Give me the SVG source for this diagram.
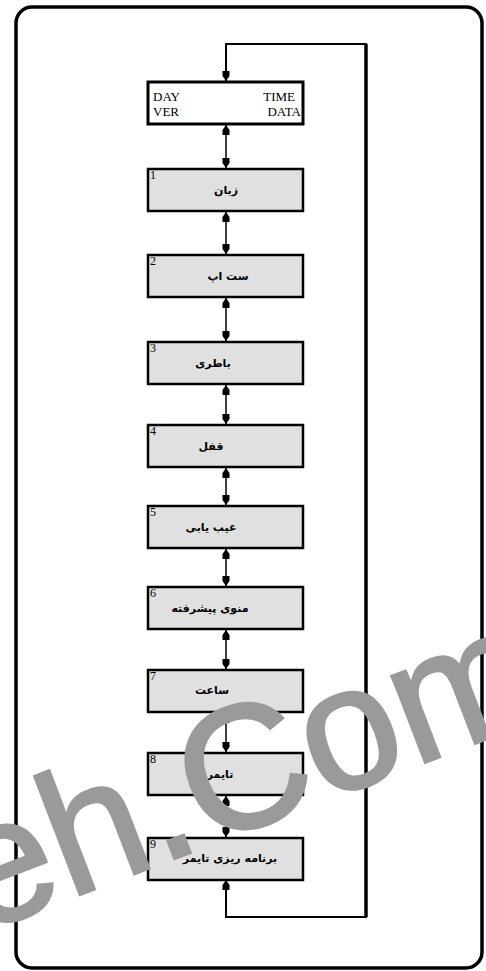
<svg xmlns="http://www.w3.org/2000/svg" width="486" height="971" viewBox="0 0 486 971">
<style>
.frame{fill:#fff;stroke:#000;stroke-width:3.5}
.box{fill:#e0e0e0;stroke:#000;stroke-width:2.5}
.hdr{fill:#fff;stroke:#000;stroke-width:3}
.lbl{font-family:"DejaVu Sans",sans-serif;font-weight:bold;font-size:11px;fill:#000;text-anchor:middle}
.num{font-family:"Liberation Serif",serif;font-size:12px;fill:#000}
.hd{font-family:"Liberation Serif",serif;font-size:13px;fill:#000}
.con{fill:none;stroke:#000;stroke-width:1.5}
.loop{fill:none;stroke:#000;stroke-width:2}
.wm{font-family:"Liberation Sans",Arial,sans-serif;font-size:175px;fill:#9a9a9a;stroke:#9a9a9a;stroke-width:3}
</style>
<defs>
<marker id="ah" markerUnits="userSpaceOnUse" markerWidth="14" markerHeight="10" viewBox="-12 -5 14 10" refX="0" refY="0" orient="auto-start-reverse">
<polygon points="-10,-3.5 -5,-3.5 0,0 -5,3.5 -10,3.5" fill="#000"/>
</marker>
</defs>
<rect class="frame" x="16" y="7" width="466" height="961" rx="16"/>
<g id="connectors">
<path class="loop" d="M226,81 V44 H366 V917 H226 V880" marker-start="url(#ah)" marker-end="url(#ah)"/>
<line x1="366" y1="44" x2="366" y2="917" stroke="#000" stroke-width="3.5"/>
<line class="con" x1="226" y1="125" x2="226" y2="168" marker-start="url(#ah)" marker-end="url(#ah)"/>
<line class="con" x1="226" y1="212" x2="226" y2="254" marker-start="url(#ah)" marker-end="url(#ah)"/>
<line class="con" x1="226" y1="298" x2="226" y2="341" marker-start="url(#ah)" marker-end="url(#ah)"/>
<line class="con" x1="226" y1="385" x2="226" y2="424" marker-start="url(#ah)" marker-end="url(#ah)"/>
<line class="con" x1="226" y1="468" x2="226" y2="505" marker-start="url(#ah)" marker-end="url(#ah)"/>
<line class="con" x1="226" y1="549" x2="226" y2="586" marker-start="url(#ah)" marker-end="url(#ah)"/>
<line class="con" x1="226" y1="630" x2="226" y2="669" marker-start="url(#ah)" marker-end="url(#ah)"/>
<line class="con" x1="226" y1="713" x2="226" y2="752" marker-start="url(#ah)" marker-end="url(#ah)"/>
<line class="con" x1="226" y1="796" x2="226" y2="837" marker-start="url(#ah)" marker-end="url(#ah)"/>
</g>
<g id="header">
<rect class="hdr" x="148" y="82" width="155" height="42"/>
<text class="hd" x="153" y="101">DAY</text>
<text class="hd" x="153" y="116">VER</text>
<text class="hd" x="295" y="101" text-anchor="end">TIME</text>
<text class="hd" x="301" y="116" text-anchor="end">DATA</text>
</g>
<g id="n1"><rect class="box" x="148" y="169" width="155" height="42"/><text class="num" x="150" y="179">1</text><text class="lbl" x="226" y="194">زبان</text></g>
<g id="n2"><rect class="box" x="148" y="255" width="155" height="42"/><text class="num" x="150" y="265">2</text><text class="lbl" x="228" y="280">ست اپ</text></g>
<g id="n3"><rect class="box" x="148" y="342" width="155" height="42"/><text class="num" x="150" y="352">3</text><text class="lbl" x="213" y="367">باطری</text></g>
<g id="n4"><rect class="box" x="148" y="425" width="155" height="42"/><text class="num" x="150" y="435">4</text><text class="lbl" x="211" y="450">قفل</text></g>
<g id="n5"><rect class="box" x="148" y="506" width="155" height="42"/><text class="num" x="150" y="516">5</text><text class="lbl" x="211" y="531">عیب یابی</text></g>
<g id="n6"><rect class="box" x="148" y="587" width="155" height="42"/><text class="num" x="150" y="597">6</text><text class="lbl" x="210" y="612">منوی پیشرفته</text></g>
<g id="n7"><rect class="box" x="148" y="670" width="155" height="42"/><text class="num" x="150" y="680">7</text><text class="lbl" x="212" y="694">ساعت</text></g>
<g id="n8"><rect class="box" x="148" y="753" width="155" height="42"/><text class="num" x="150" y="763">8</text><text class="lbl" x="220" y="778">تایمر</text></g>
<g id="n9"><rect class="box" x="148" y="838" width="155" height="42"/><text class="num" x="150" y="848">9</text><text class="lbl" x="230" y="862">برنامه ریزی تایمر</text></g>
<text class="wm" x="-22" y="934" transform="rotate(-21 -22 934)">eh.Com</text>
</svg>
